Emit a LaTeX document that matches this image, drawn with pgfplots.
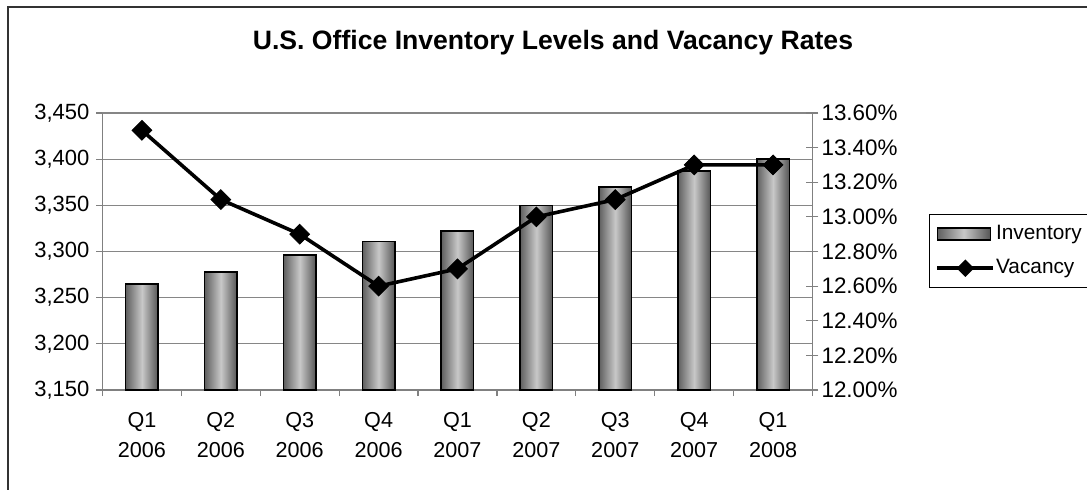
\documentclass[border=0pt]{standalone}
\usepackage{pgfplots}
\pgfplotsset{compat=1.18}
\usepackage{fontspec}
\setmainfont{Liberation Sans}
\definecolor{axgray}{RGB}{128,128,128}
\definecolor{gridgray}{RGB}{134,134,134}
\definecolor{bardark}{RGB}{95,95,95}
\definecolor{barlight}{RGB}{200,200,200}
\pgfplotsset{cylbar/.style={ybar, bar shift=0pt, bar width=16.25pt, draw=black, line width=0.75pt,
  left color=bardark, right color=bardark!90!black, middle color=barlight}}
\begin{document}
\begin{tikzpicture}
\begin{axis}[
  scale only axis, width=355pt, height=138.5pt,
  at={(0,0)}, anchor=south west,
  xmin=-0.5, xmax=8.5, ymin=3150, ymax=3450,
  axis x line*=bottom, axis y line*=left,
  axis line style={axgray, line width=0.6pt},
  tick style={axgray, line width=0.6pt},
  tick align=outside, major tick length=3pt,
  ytick={3150,3200,3250,3300,3350,3400,3450},
  ymajorgrids, grid style={gridgray, line width=0.6pt},
  xtick={-0.5,0.5,1.5,2.5,3.5,4.5,5.5,6.5,7.5,8.5},
  xticklabels={{Q1\\2006},{Q2\\2006},{Q3\\2006},{Q4\\2006},{Q1\\2007},{Q2\\2007},{Q3\\2007},{Q4\\2007},{Q1\\2008},{}},
  x tick label style={align=center, font=\fontsize{10.8}{15}\selectfont, xshift=19.72pt, yshift=-4.5pt},
  y tick label style={font=\fontsize{11}{12}\selectfont},
  /pgf/number format/.cd, 1000 sep={,}, assume math mode=true,
  /pgfplots/.cd,
  title={\bfseries U.S. Office Inventory Levels and Vacancy Rates},
  title style={at={(0.6345,1.2094)}, anchor=center, font=\fontsize{13.3}{16}\selectfont},
  clip=true,
]
\addplot[cylbar] coordinates {(0,3265)};
\addplot[cylbar] coordinates {(1,3278)};
\addplot[cylbar] coordinates {(2,3296)};
\addplot[cylbar] coordinates {(3,3311)};
\addplot[cylbar] coordinates {(4,3322)};
\addplot[cylbar] coordinates {(5,3350)};
\addplot[cylbar] coordinates {(6,3370)};
\addplot[cylbar] coordinates {(7,3387)};
\addplot[cylbar] coordinates {(8,3400)};
\end{axis}
\begin{axis}[
  scale only axis, width=355pt, height=138.5pt,
  at={(0,0)}, anchor=south west,
  xmin=-0.5, xmax=8.5, ymin=12, ymax=13.6,
  axis x line=none, axis y line*=right,
  axis line style={axgray, line width=0.6pt},
  tick style={axgray, line width=0.6pt},
  tick align=center, major tick length=6pt,
  ytick={12,12.2,12.4,12.6,12.8,13,13.2,13.4,13.6},
  yticklabel={\pgfmathprintnumber[fixed,fixed zerofill,precision=2,assume math mode=true]{\tick}\%},
  y tick label style={font=\fontsize{11.2}{12}\selectfont, xshift=-2pt},
  legend style={at={(1.164,0.635)}, anchor=north west, draw=black, line width=0.6pt,
    font=\fontsize{10.4}{11}\selectfont, inner xsep=3pt, inner ysep=4.5pt, row sep=6.5pt,
    nodes={inner sep=0.5pt, text height=7.5pt, text depth=2pt}},
  legend cell align=left,
  /tikz/every even column/.append style={column sep=4pt},
  clip=false,
]
\addlegendimage{legend image code/.code={\draw[black, line width=0.75pt, left color=bardark, right color=bardark!90!black, middle color=barlight] (0pt,-3pt) rectangle (26.5pt,3pt);}}
\addlegendentry{Inventory}
\addplot[black, line width=1.8pt, mark=square*, mark size=3.5pt,
  mark options={solid, rotate=45, line width=0.4pt, fill=black},
  legend image code/.code={\draw[black, line width=1.8pt] (0pt,0pt) -- (28pt,0pt);
    \fill[black, rotate around={45:(14pt,0pt)}] (11.8pt,-2.2pt) rectangle (16.2pt,2.2pt);}]
  coordinates {(0,13.5) (1,13.1) (2,12.9) (3,12.6) (4,12.7) (5,13.0) (6,13.1) (7,13.3) (8,13.3)};
\addlegendentry{Vacancy}
\end{axis}
\draw[black!80, line width=0.9pt] (-47.25pt,-60pt) -- (-47.25pt,191.5pt) -- (510pt,191.5pt);
\pgfresetboundingbox
\path[use as bounding box] (-51.25pt,-49.5pt) rectangle (492.25pt,195pt);
\end{tikzpicture}
\end{document}
